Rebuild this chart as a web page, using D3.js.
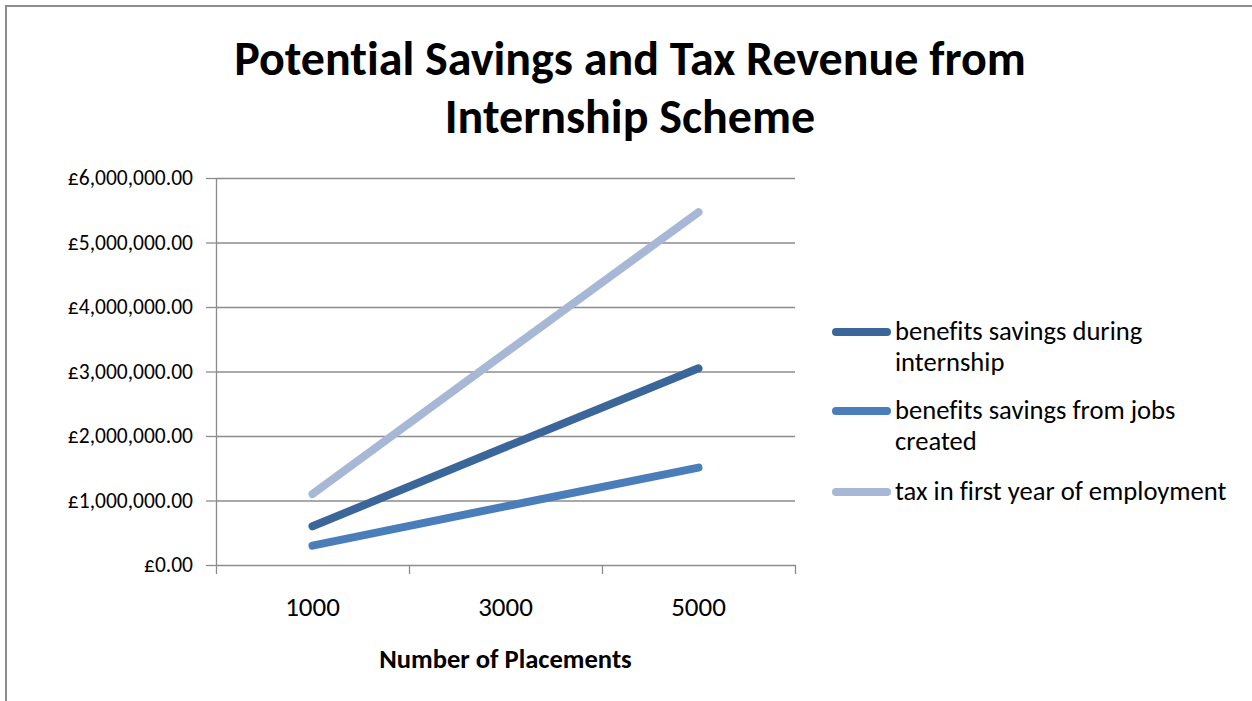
<!DOCTYPE html>
<html>
<head>
<meta charset="utf-8">
<script src="https://cdn.jsdelivr.net/npm/d3@7"></script>
<style>
  body { margin: 0; background: #fff; }
  svg { display: block; font-family: Carlito, Calibri, Lato, sans-serif; font-variant-ligatures: none; }
  .axis path, .axis line { stroke: #8c8c8c; stroke-width: 1.3; }
  .grid line { stroke: #8c8c8c; stroke-width: 1.3; }
  .grid path { display: none; }
</style>
</head>
<body>
<svg></svg>
<script>
// chart data
const placements = ["1000", "3000", "5000"];
const seriesNames = [
  ["benefits savings during", "internship"],
  ["benefits savings from jobs", "created"],
  ["tax in first year of employment"]
];
const internshipSavings = [600000, 1830000, 3050000];
const jobsSavings = [300000, 910000, 1510000];
const taxFirstYear = [1100000, 3290000, 5470000];
const yTicks = [0, 1000000, 2000000, 3000000, 4000000, 5000000, 6000000];
const colors = ["#3b6699", "#4a7ebb", "#a6b8d6"];

const series = [internshipSavings, jobsSavings, taxFirstYear];

const width = 1252, height = 701;
const plot = { left: 216, right: 795, top: 178, bottom: 565 };

const svg = d3.select("svg")
    .attr("width", width)
    .attr("height", height);

// outer chart frame (right/bottom edges fall outside the picture)
svg.append("rect")
    .attr("x", 6).attr("y", 6)
    .attr("width", width + 20).attr("height", height + 20)
    .attr("fill", "none")
    .attr("stroke", "#8c8c8c")
    .attr("stroke-width", 2);

// title
svg.append("text")
    .attr("x", 630)
    .attr("y", 75)
    .attr("text-anchor", "middle")
    .style("font-size", "48px")
    .style("font-weight", "bold")
    .selectAll("tspan")
    .data(["Potential Savings and Tax Revenue from", "Internship Scheme"])
    .enter().append("tspan")
    .attr("x", 630)
    .attr("dy", (d, i) => i === 0 ? 0 : 58)
    .text(d => d);

const x = d3.scaleBand()
    .domain(placements)
    .range([plot.left, plot.right]);

const xEdges = d3.scaleLinear()
    .domain([0, placements.length])
    .range([plot.left, plot.right]);

const y = d3.scaleLinear()
    .domain([0, 6000000])
    .range([plot.bottom, plot.top]);

// gridlines
svg.append("g")
    .attr("class", "grid")
    .attr("transform", `translate(${plot.left},0)`)
    .call(d3.axisLeft(y).tickValues(yTicks.slice(1)).tickSize(-(plot.right - plot.left)).tickFormat(""));

// y axis
const yAxis = svg.append("g")
    .attr("class", "axis")
    .attr("transform", `translate(${plot.left},0)`)
    .call(d3.axisLeft(y)
        .tickValues(yTicks)
        .tickSize(10)
        .tickSizeOuter(0)
        .tickPadding(13)
        .tickFormat(d => "£" + d3.format(",.2f")(d)));
yAxis.selectAll("text")
    .style("font-size", "21.5px")
    .style("font-family", "Carlito, Calibri, Lato, sans-serif")
    .attr("fill", "#000");

// x axis: tick marks between categories
svg.append("g")
    .attr("class", "axis")
    .attr("transform", `translate(0,${plot.bottom})`)
    .call(d3.axisBottom(xEdges)
        .tickValues(d3.range(placements.length + 1))
        .tickSize(9)
        .tickSizeOuter(0)
        .tickFormat(""));

const xLabels = svg.append("g")
    .attr("transform", `translate(0,${plot.bottom})`)
    .call(d3.axisBottom(x).tickSize(0).tickPadding(32));
xLabels.select("path").remove();
xLabels.selectAll("text")
    .style("font-size", "27px")
    .style("font-family", "Carlito, Calibri, Lato, sans-serif")
    .attr("fill", "#000");

// x axis title
svg.append("text")
    .attr("x", (plot.left + plot.right) / 2)
    .attr("y", 668)
    .attr("text-anchor", "middle")
    .style("font-size", "26.6px")
    .style("font-weight", "bold")
    .text("Number of Placements");

// lines
const line = d3.line()
    .x((d, i) => x(placements[i]) + x.bandwidth() / 2)
    .y(d => y(d));

svg.append("g")
    .selectAll("path")
    .data(series)
    .enter().append("path")
    .attr("d", line)
    .attr("fill", "none")
    .attr("stroke", (d, i) => colors[i])
    .attr("stroke-width", 8)
    .attr("stroke-linecap", "round")
    .attr("stroke-linejoin", "round");

// legend
const legendRows = [332, 411, 492];
const legend = svg.append("g")
    .selectAll("g")
    .data(seriesNames)
    .enter().append("g")
    .attr("transform", (d, i) => `translate(833,${legendRows[i]})`);

legend.append("line")
    .attr("x1", 3).attr("x2", 54)
    .attr("stroke", (d, i) => colors[i])
    .attr("stroke-width", 8)
    .attr("stroke-linecap", "round");

legend.append("text")
    .attr("y", 8)
    .style("font-size", "26.6px")
    .selectAll("tspan")
    .data(d => d)
    .enter().append("tspan")
    .attr("x", 62)
    .attr("dy", (d, i) => i === 0 ? 0 : 31)
    .text(d => d);
</script>
</body>
</html>
